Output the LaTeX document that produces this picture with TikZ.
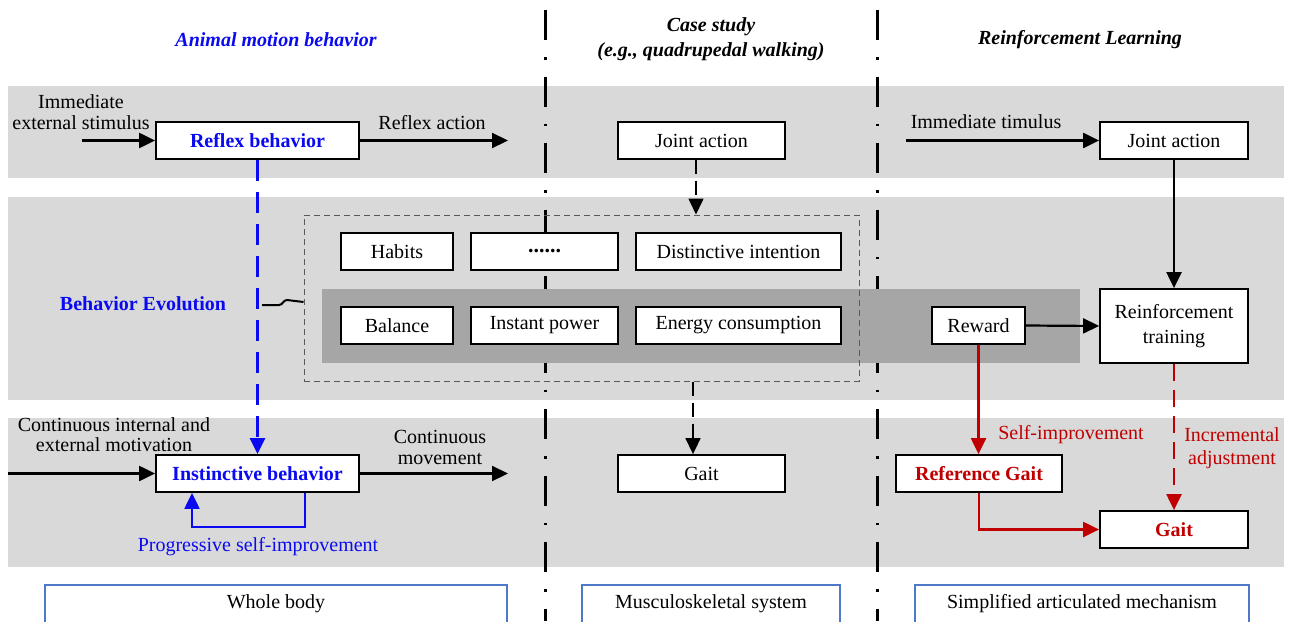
\documentclass[tikz,border=0pt]{standalone}
\usepackage{fontspec}
\setmainfont{Liberation Serif}
\usetikzlibrary{arrows.meta,calc}
\definecolor{bandgray}{RGB}{217,217,217}
\definecolor{darkband}{RGB}{166,166,166}
\definecolor{myblue}{RGB}{10,10,240}
\definecolor{myred}{RGB}{192,0,0}
\definecolor{boxblue}{RGB}{80,120,200}
\begin{document}
\begin{tikzpicture}[x=1pt,y=-1pt,
  every node/.style={font=\fontsize{20}{21}\selectfont},
  box/.style={draw=black,line width=1.8pt,fill=white,inner sep=0pt,minimum height=37pt},
  lbl/.style={inner sep=0pt,align=center},
  tip/.style={-{Triangle[length=16pt,width=15pt]}},
  arr/.style={line width=2.2pt,tip},
  darr/.style={line width=1.6pt,dash pattern=on 14pt off 7pt,tip},
  barr/.style={myblue,line width=2.2pt,tip},
  bdarr/.style={myblue,line width=2.6pt,dash pattern=on 21pt off 11pt,tip},
  rarr/.style={myred,line width=2.2pt,tip},
  rdarr/.style={myred,line width=2.2pt,dash pattern=on 17pt off 9pt,tip},
  sep/.style={line width=3pt,dash pattern=on 30pt off 17pt on 2.5pt off 17pt},
  bottombox/.style={draw=boxblue,line width=1.2pt,fill=white,inner sep=0pt,minimum height=38pt}
]
\useasboundingbox (0,0) rectangle (1289,621);
\fill[white] (0,0) rectangle (1289,621);
% bands
\fill[bandgray] (8,86) rectangle (1284,178);
\fill[bandgray] (8,197) rectangle (1284,400);
\fill[bandgray] (8,418) rectangle (1284,567);
% separators
\draw[sep] (545,10) -- (545,621);
\draw[sep] (877,10) -- (877,621);
% dark band
\fill[darkband] (322,289) rectangle (1080,363);
% dashed evolution frame
\node[draw=black!65,dash pattern=on 6pt off 4pt,line width=1pt,inner sep=0pt,minimum width=555pt,minimum height=166pt] (evo) at (581.5,298) {};

% titles
\node[lbl,myblue,font=\fontsize{20}{21}\selectfont\bfseries\itshape] (t1) at (276,40) {Animal motion behavior};
\node[lbl,font=\fontsize{20}{25}\selectfont\bfseries\itshape] (t2) at (711,39.5) {Case study\\(e.g., quadrupedal walking)};
\node[lbl,font=\fontsize{20}{21}\selectfont\bfseries\itshape] (t3) at (1080,40) {Reinforcement Learning};

% boxes
\node[box,minimum width=203pt,text=myblue,font=\fontsize{20}{21}\selectfont\bfseries] (reflex) at (257.5,140.5) {Reflex behavior};
\node[box,minimum width=167pt] (ja1) at (701.5,140.5) {Joint action};
\node[box,minimum width=148pt] (ja2) at (1174,140.5) {Joint action};
\node[box,minimum width=112pt] (habits) at (397,251.5) {Habits};
\node[box,minimum width=147pt,font=\fontsize{22}{22}\selectfont\bfseries] (dots) at (544.5,251.5) {......};
\node[box,minimum width=205pt] (distinct) at (738.5,251.5) {Distinctive intention};
\node[box,minimum width=112pt] (balance) at (397,325.5) {Balance};
\node[box,minimum width=147pt] (instant) at (544.5,325.5) {Instant power};
\node[box,minimum width=205pt] (energy) at (738.5,325.5) {Energy consumption};
\node[box,minimum width=93pt] (reward) at (978.5,325.5) {Reward};
\node[box,minimum width=148pt,minimum height=74pt,align=center,font=\fontsize{20}{25}\selectfont] (rt) at (1174,326) {Reinforcement\\training};
\node[box,minimum width=203pt,text=myblue,font=\fontsize{20}{21}\selectfont\bfseries] (instinct) at (257.5,473.5) {Instinctive behavior};
\node[box,minimum width=167pt] (gait1) at (701.5,473.5) {Gait};
\node[box,minimum width=166pt,text=myred,font=\fontsize{20}{21}\selectfont\bfseries] (refgait) at (979,473.5) {Reference Gait};
\node[box,minimum width=148pt,text=myred,font=\fontsize{20}{21}\selectfont\bfseries] (gait2) at (1174,529.5) {Gait};

% bottom boxes
\node[bottombox,minimum width=462pt] (whole) at (276,604) {Whole body};
\node[bottombox,minimum width=258pt] (musc) at (711,604) {Musculoskeletal system};
\node[bottombox,minimum width=334pt] (simp) at (1082,604) {Simplified articulated mechanism};

% labels
\node[lbl,font=\fontsize{20}{21}\selectfont] (l1) at (81,112) {Immediate\\external stimulus};
\node[lbl] (l2) at (432,123) {Reflex action};
\node[lbl] (l3) at (986,122) {Immediate timulus};
\node[lbl,font=\fontsize{20}{20}\selectfont] (l4) at (114,435) {Continuous internal and\\external motivation};
\node[lbl,font=\fontsize{20}{21}\selectfont] (l5) at (440,447) {Continuous\\movement};
\node[lbl,text=myblue] (l6) at (258,547) {Progressive self-improvement};
\node[lbl,text=myblue,font=\fontsize{20}{21}\selectfont\bfseries] (l7) at (143,304) {Behavior Evolution};
\node[lbl,text=myred] (l8) at (1071,435) {Self-improvement};
\node[lbl,text=myred,font=\fontsize{20}{23}\selectfont] (l9) at (1232,448.5) {Incremental\\adjustment};

% connectors
\coordinate (s1) at (82,140.5);
\coordinate (e1) at (508,140.5);
\coordinate (s2) at (906,140.5);
\coordinate (s3) at (8,473.5);
\coordinate (e3) at (508,473.5);
\draw[arr] (s1) -- (reflex.west);
\draw[arr] (reflex.east) -- (e1);
\draw[arr] (s2) -- (ja2.west);
\draw[arr] (s3) -- (instinct.west);
\draw[arr] (instinct.east) -- (e3);

\coordinate (a) at ($(ja1.south)+(-5.5,0)$);
\draw[darr] (a) -- (a |- evo.north);
\coordinate (b) at ($(gait1.north)+(-8.5,0)$);
\draw[darr] (b |- evo.south) -- (b);

\draw[arr] (ja2.south) -- (rt.north);
\draw[arr] (reward.east) -- (rt.west);
\draw[rarr] (reward.south) -- (reward.south |- refgait.north);
\draw[rdarr] (rt.south) -- (gait2.north);
\draw[rarr] (refgait.south) |- (gait2.west);

\draw[bdarr] (reflex.south) -- (instinct.north);
\coordinate (fb1) at ($(instinct.south)+(47.5,0)$);
\coordinate (fb2) at ($(instinct.south)+(-65.5,0)$);
\draw[barr] (fb1) -- ++(0,34) -| (fb2);

\coordinate (tl) at (262,305);
\draw[line width=2pt] (tl) -- ++(17,0) .. controls +(4,0) and +(-4,0) .. ++(8,-5) -- (evo.west |- 0,302);
\end{tikzpicture}
\end{document}
